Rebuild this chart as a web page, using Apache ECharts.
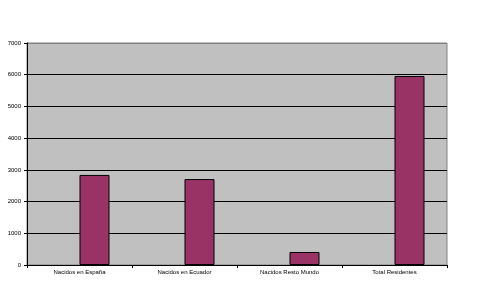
<!DOCTYPE html>
<html><head><meta charset="utf-8">
<script src="https://cdn.jsdelivr.net/npm/echarts@6/dist/echarts.min.js"></script>
<style>html,body{margin:0;padding:0;background:#fff}#c{width:491px;height:286px}</style>
</head><body><div id="c"></div>
<script>
var categories = ['Nacidos en España', 'Nacidos en Ecuador', 'Nacidos Resto Mundo', 'Total Residentes'];
var values = [2840, 2710, 410, 5960];
var yTicks = [0, 1000, 2000, 3000, 4000, 5000, 6000, 7000];

var chart = echarts.init(document.getElementById('c'), null, {renderer: 'canvas'});
chart.setOption({
  animation: false,
  grid: {left: 27, right: 44, top: 43, bottom: 21, show: true, backgroundColor: '#c0c0c0', borderColor: '#808080', borderWidth: 1},
  xAxis: {
    type: 'category', data: categories,
    axisLine: {lineStyle: {color: '#000', width: 1}},
    axisTick: {show: true, length: 3, lineStyle: {color: '#000'}},
    axisLabel: {color: '#000', fontSize: 6, fontFamily: 'Liberation Sans, Arial', margin: 4}
  },
  yAxis: {
    type: 'value', min: yTicks[0], max: yTicks[yTicks.length - 1], interval: 1000,
    axisLine: {show: true, lineStyle: {color: '#000', width: 1}},
    axisTick: {show: true, length: 3, lineStyle: {color: '#000'}},
    axisLabel: {color: '#000', fontSize: 6, fontFamily: 'Liberation Sans, Arial', margin: 6,
      formatter: function (v) { return String(v); }},
    splitLine: {show: true, lineStyle: {color: yTicks.map(function (t, i) { return i === yTicks.length - 1 ? '#808080' : '#000'; }), width: 1}}
  },
  series: [
    {type: 'bar', data: categories.map(function(){return null;}), barWidth: 30, barGap: '0%'},
    {type: 'bar', data: values, barWidth: 30, barGap: '0%',
     itemStyle: {color: '#993366', borderColor: '#000', borderWidth: 1}}
  ]
});
</script></body></html>
